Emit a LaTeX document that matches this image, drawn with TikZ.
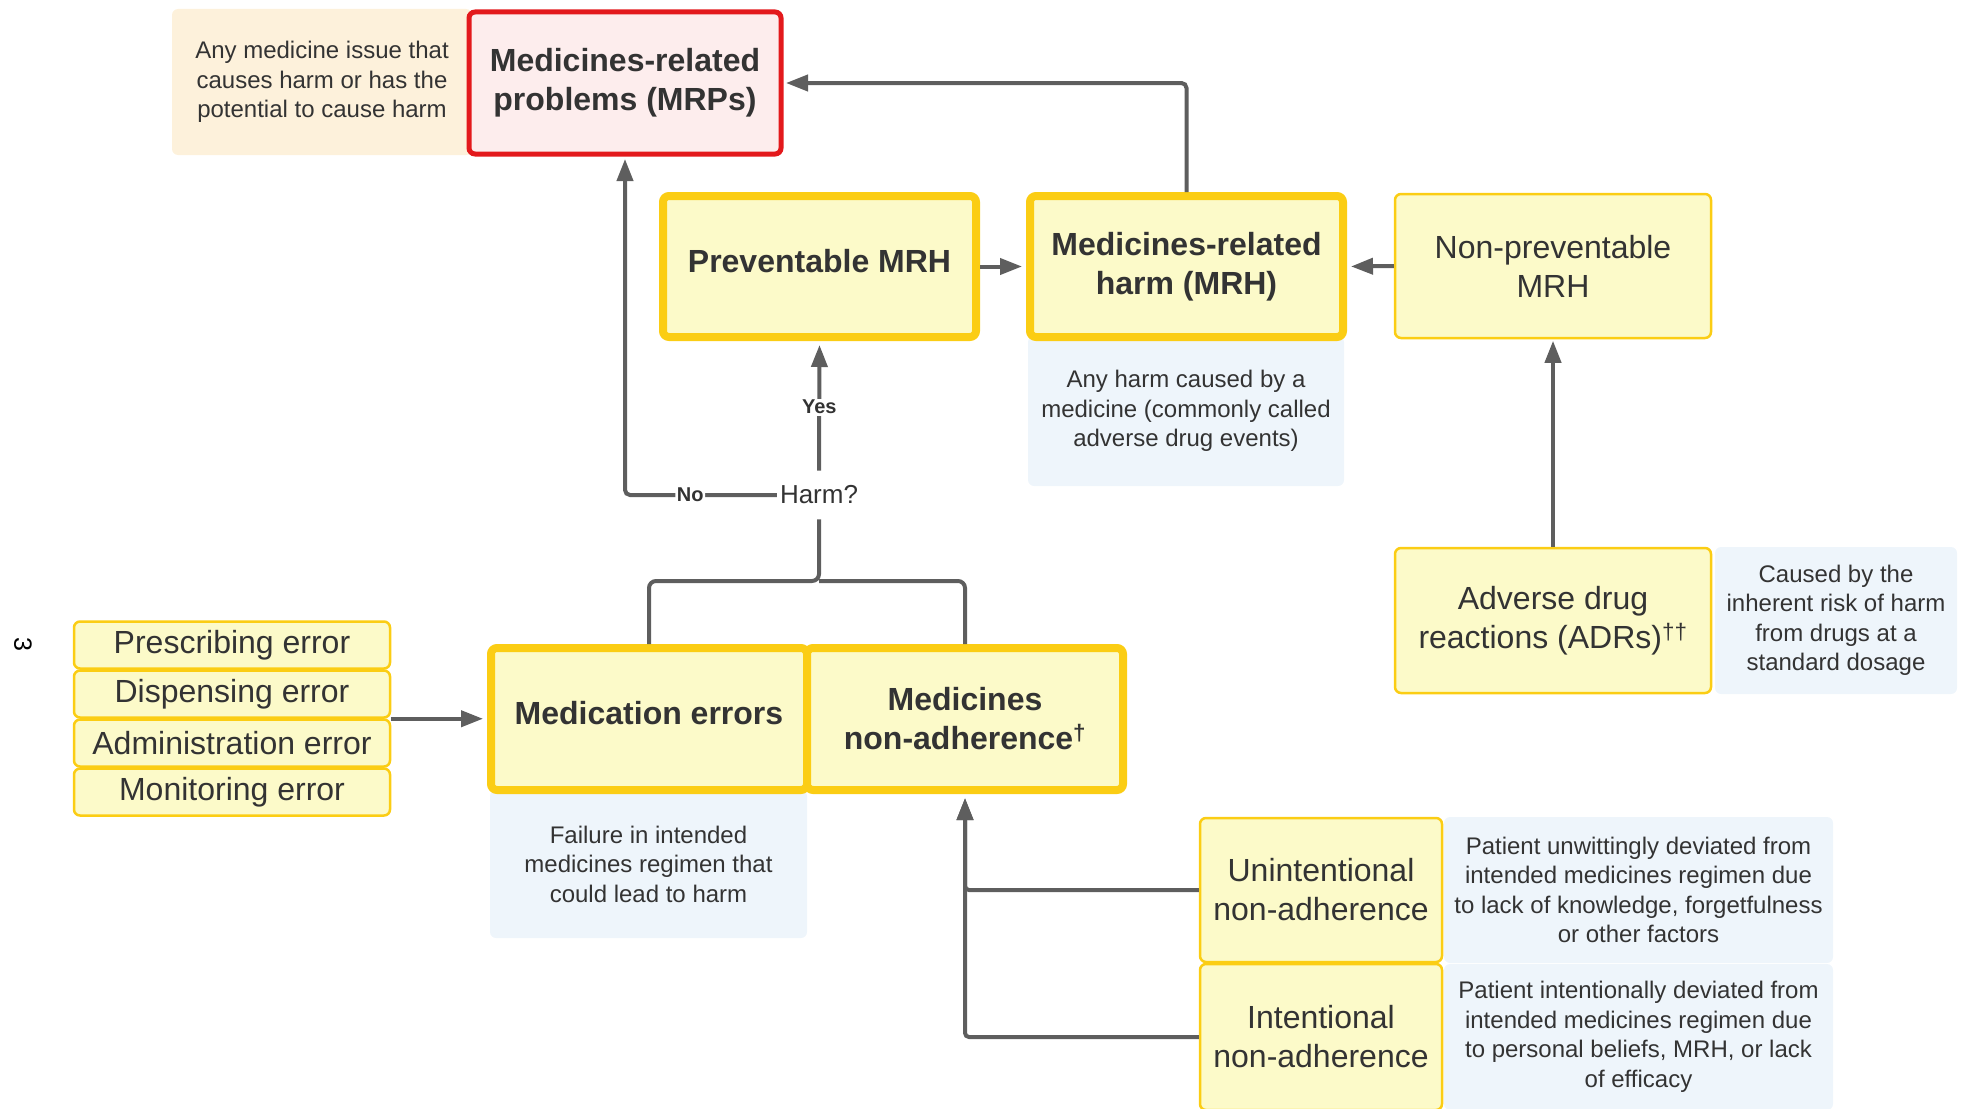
\documentclass[tikz,border=0pt]{standalone}
\usepackage{fontspec}
\setmainfont{Liberation Sans}
\usetikzlibrary{arrows.meta}
\definecolor{ylfill}{HTML}{FCFAC9}
\definecolor{ylline}{HTML}{FBCD14}
\definecolor{bluefill}{HTML}{EEF5FB}
\definecolor{beige}{HTML}{FDF1DB}
\definecolor{redline}{HTML}{E3191C}
\definecolor{pinkfill}{HTML}{FDEDED}
\definecolor{arrgray}{HTML}{5E5E5E}
\definecolor{txt}{HTML}{333333}
\tikzset{
  base/.style={inner sep=0pt, align=center, text=txt},
  bigbox/.style={base, draw=ylline, fill=ylfill, line width=8pt, rounded corners=6pt, font=\bfseries\fontsize{32}{39}\selectfont},
  thinbox/.style={base, draw=ylline, fill=ylfill, line width=2.5pt, rounded corners=6pt, font=\fontsize{32}{39}\selectfont},
  descbox/.style={base, fill=bluefill, rounded corners=6pt, font=\fontsize{24}{29.5}\selectfont},
  redbox/.style={base, draw=redline, fill=pinkfill, line width=5pt, rounded corners=6pt, font=\bfseries\fontsize{32}{39}\selectfont},
  arr/.style={draw=arrgray, line width=4pt, -{Triangle[length=22pt,width=16pt]}},
  plainline/.style={draw=arrgray, line width=4pt},
  lbl/.style={fill=white, font=\bfseries\fontsize{20}{24}\selectfont, text=txt, inner sep=1.5pt},
}
\begin{document}
\begin{tikzpicture}[x=1pt,y=-1pt]
\useasboundingbox (0,0) rectangle (1964,1108);

% description boxes (behind)
\node[descbox, fill=beige, minimum width=300, minimum height=146] (mrpdesc) at (322,82)
  {Any medicine issue that\\causes harm or has the\\potential to cause harm};
\node[descbox, minimum width=316, minimum height=150] (mrhdesc) at (1186,411)
  {Any harm caused by a\\medicine (commonly called\\adverse drug events)};
\node[descbox, minimum width=242, minimum height=147] (adrdesc) at (1836,620.5)
  {Caused by the\\inherent risk of harm\\from drugs at a\\standard dosage};
\node[descbox, minimum width=317, minimum height=148] (mederrdesc) at (648.5,864)
  {Failure in intended\\medicines regimen that\\could lead to harm};
\node[descbox, minimum width=389, minimum height=146] (unintdesc) at (1638.5,890)
  {Patient unwittingly deviated from\\intended medicines regimen due\\to lack of knowledge, forgetfulness\\or other factors};
\node[descbox, minimum width=389, minimum height=146] (intentdesc) at (1638.5,1037)
  {Patient intentionally deviated from\\intended medicines regimen due\\to personal beliefs, MRH, or lack\\of efficacy};

% main boxes
\node[redbox, minimum width=312, minimum height=142] (mrp) at (625,83)
  {Medicines-related\\problems (MRPs)};
\node[bigbox, minimum width=313, minimum height=141] (prev) at (819.5,266.5)
  {\raisebox{12pt}{Preventable MRH}};
\node[bigbox, minimum width=313, minimum height=141] (mrh) at (1186.5,266.5)
  {Medicines-related\\harm (MRH)};
\node[thinbox, minimum width=316, minimum height=144] (nonprev) at (1553,266)
  {Non-preventable\\MRH};
\node[thinbox, minimum width=316, minimum height=145] (adr) at (1553,620.5)
  {Adverse drug\\reactions (ADRs)\textsuperscript{††}};
\node[bigbox, minimum width=316, minimum height=142] (mederr) at (649,719)
  {\raisebox{12pt}{Medication errors}};
\node[bigbox, minimum width=316, minimum height=142] (nonadh) at (965,719)
  {Medicines\\non-adherence\textsuperscript{†}};
\node[thinbox, minimum width=242, minimum height=144] (unint) at (1321,890)
  {Unintentional\\non-adherence};
\node[thinbox, minimum width=242, minimum height=146] (intent) at (1321,1037)
  {Intentional\\non-adherence};

% error list
\node[thinbox, minimum width=316, minimum height=47] (presc) at (232,645) {Prescribing error};
\node[thinbox, minimum width=316, minimum height=47] (disp) at (232,694) {Dispensing error};
\node[thinbox, minimum width=316, minimum height=47] (admin) at (232,743) {Administration error};
\node[thinbox, minimum width=316, minimum height=47] (monit) at (232,792) {Monitoring error};

% decision
\node[base, font=\fontsize{26}{30}\selectfont, inner xsep=3pt, inner ysep=15pt] (harm) at (819,495) {Harm?};

% page mark
\node[base, rotate=-90, font=\fontsize{25}{25}\selectfont, text=black] (pg) at (23,644) {3};

% connectors
\draw[arr, shorten >=4pt] (harm.north) -- node[lbl, pos=0.49] {Yes} (prev.south);
\draw[arr, shorten >=2.5pt, rounded corners=5pt] (harm.west) -| node[lbl, pos=0.285] {No} (mrp.south);
\draw[arr, shorten >=2.5pt, rounded corners=5pt] (mrh.north) |- (mrp.east);
\draw[arr, shorten >=4pt] (prev.east) -- (mrh.west);
\draw[arr, shorten >=4pt] (nonprev.west) -- (mrh.east);
\draw[arr, shorten >=1.5pt] (adr.north) -- (nonprev.south);
\coordinate (j) at (819,581);
\draw[plainline, rounded corners=7pt] (mederr.north) |- (j) -- (harm.south);
\draw[plainline, rounded corners=7pt] (nonadh.north) |- (j);
\draw[arr, shorten >=4pt] (disp.south east) -- (disp.south east -| mederr.west);
\draw[arr, shorten >=4pt, rounded corners=4pt] (unint.west) -| (nonadh.south);
\draw[arr, shorten >=4pt, rounded corners=4pt] (intent.west) -| (nonadh.south);
\end{tikzpicture}
\end{document}
